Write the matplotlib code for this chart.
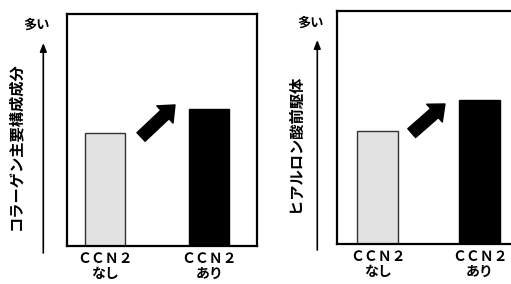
import numpy as np
import matplotlib
matplotlib.use("Agg")
import matplotlib.pyplot as plt

plt.rcParams['font.family'] = ['Noto Sans CJK JP', 'DejaVu Sans']

# datos (escala relativa 0-100)
categorias = ['ＣＣＮ２\nなし', 'ＣＣＮ２\nあり']
colageno = [48.6, 59.0]
hialuronico = [48.6, 61.8]
ylabels = ['コラーゲン主要構成成分', 'ヒアルロン酸前駆体']
colores = ['#e2e2e2', '#000000']

fig = plt.figure(figsize=(5.11, 2.84), dpi=100)

ax1 = fig.add_axes([0.1305, 0.1338, 0.3718, 0.8169])
ax2 = fig.add_axes([0.6589, 0.1408, 0.3718, 0.8204])

def panel(ax, vals, xlim, ancho, flecha):
    xx = np.arange(len(vals))
    ax.bar(xx, vals, width=ancho, color=colores, edgecolor=['#333333', '#000000'],
           linewidth=1.0)
    ax.set_xlim(xlim)
    ax.set_ylim(0, 100)
    ax.set_yticks([])
    ax.set_xticks(xx)
    ax.set_xticklabels(categorias, fontsize=10, fontweight='bold', linespacing=1.15)
    ax.tick_params(axis='x', length=0, pad=4)
    for s in ax.spines.values():
        s.set_linewidth(1.6)
    # flecha gruesa entre barras
    ax.annotate('', xy=flecha[1], xytext=flecha[0],
                arrowprops=dict(arrowstyle='simple,head_length=1.0,head_width=1.7,tail_width=0.85',
                                mutation_scale=10, color='black', shrinkA=0, shrinkB=0))

panel(ax1, colageno, (-0.3676, 1.4559), 0.383, ((0.346, 47.0), (0.672, 60.8)))
panel(ax2, hialuronico, (-0.404, 1.458), 0.402, ((0.331, 47.6), (0.657, 60.1)))

# ejes Y con flecha, "多い" y etiqueta vertical
for xp, y0, y1, ytxt, xlab, ylab, lab in [(43.3, 253, 43, 25, 15, 146.5, ylabels[0]),
                                          (317.3, 250, 40, 22.5, 295, 143, ylabels[1])]:
    plt.annotate('', xy=(xp/511, 1-y1/284), xytext=(xp/511, 1-y0/284),
                 xycoords='figure fraction', textcoords='figure fraction',
                 arrowprops=dict(arrowstyle='-|>,head_length=0.5,head_width=0.2',
                                 color='black', lw=1.2, shrinkA=0, shrinkB=0))
    fig.text((xp-7)/511, 1-ytxt/284, '多い', fontsize=9.5, fontweight='bold',
             ha='center', va='center')
    fig.text(xlab/511, 1-ylab/284, lab, fontsize=11, fontweight='bold',
             rotation=90, ha='center', va='center')

plt.savefig('out.png', dpi=100)
